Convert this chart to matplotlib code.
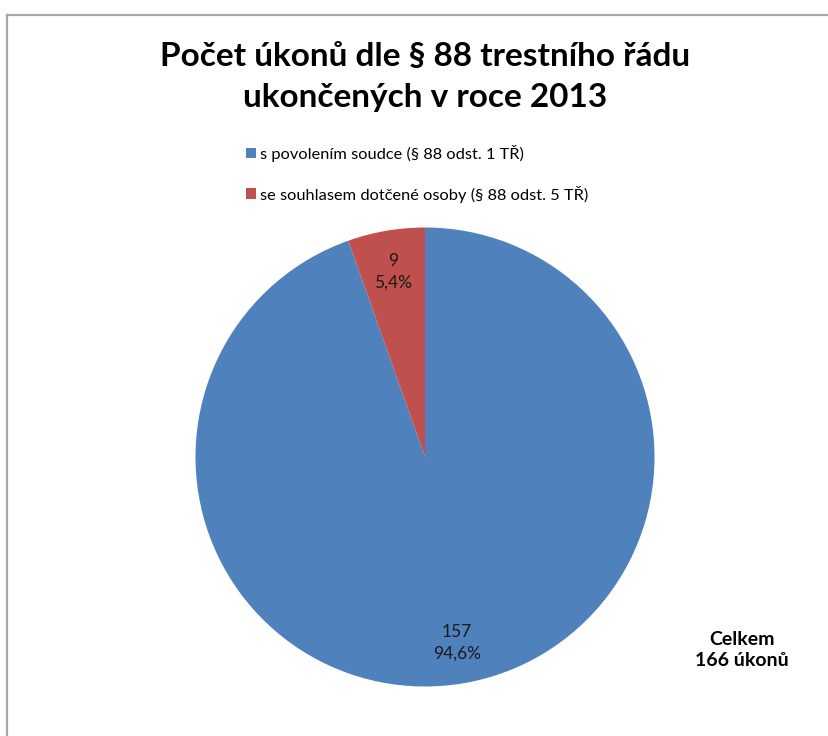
import matplotlib
matplotlib.use('Agg')
import matplotlib.pyplot as plt
from matplotlib.lines import Line2D

plt.rcParams['font.family'] = ['Lato', 'DejaVu Sans']

# data
categories = ['s povolením soudce (§ 88 odst. 1 TŘ)',
              'se souhlasem dotčené osoby (§ 88 odst. 5 TŘ)']
values = [157, 9]
colors = ['#4F81BD', '#C0504D']
total = sum(values)

W, H = 829, 736
fig = plt.figure(figsize=(W / 100, H / 100), dpi=100)

# chart border (only top and left visible)
fig.add_artist(Line2D([7 / W, 1], [1 - 15 / H, 1 - 15 / H], color='#a6a6a6', lw=1.6))
fig.add_artist(Line2D([7 / W, 7 / W], [0, 1 - 15 / H], color='#a6a6a6', lw=1.6))

# pie axes placed by pixel centre / radius
cx, cy, r = 425, 457, 229.5
ax = fig.add_axes([(cx - r) / W, (H - cy - r) / H, 2 * r / W, 2 * r / H])


def fmt(pct):
    n = int(round(pct * total / 100))
    return '%d\n%s%%' % (n, ('%.1f' % pct).replace('.', ','))


wedges, texts, autotexts = ax.pie(values, colors=colors, startangle=90,
                                  counterclock=False, autopct=fmt,
                                  pctdistance=0.82,
                                  textprops=dict(fontsize=12.5, color='#1a1a1a',
                                                 linespacing=1.45))
ax.set_xlim(-1, 1)
ax.set_ylim(-1, 1)
ax.set_aspect('equal')

fig.text(cx / W, 1 - 77 / H, 'Počet úkonů dle § 88 trestního řádu\nukončených v roce 2013',
         ha='center', va='center', fontsize=24, fontweight='bold', linespacing=1.5)

fig.legend(wedges, categories, loc='upper left', bbox_to_anchor=(231 / W, 1 - 130 / H),
           frameon=False, fontsize=11.8, handlelength=0.65, handleheight=0.65,
           handletextpad=0.2, labelspacing=1.45)

fig.text(742 / W, 1 - 650 / H, 'Celkem\n%d úkonů' % total, ha='center', va='center',
         fontsize=14, fontweight='bold', linespacing=1.3)

fig.savefig('out.png', dpi=100)
